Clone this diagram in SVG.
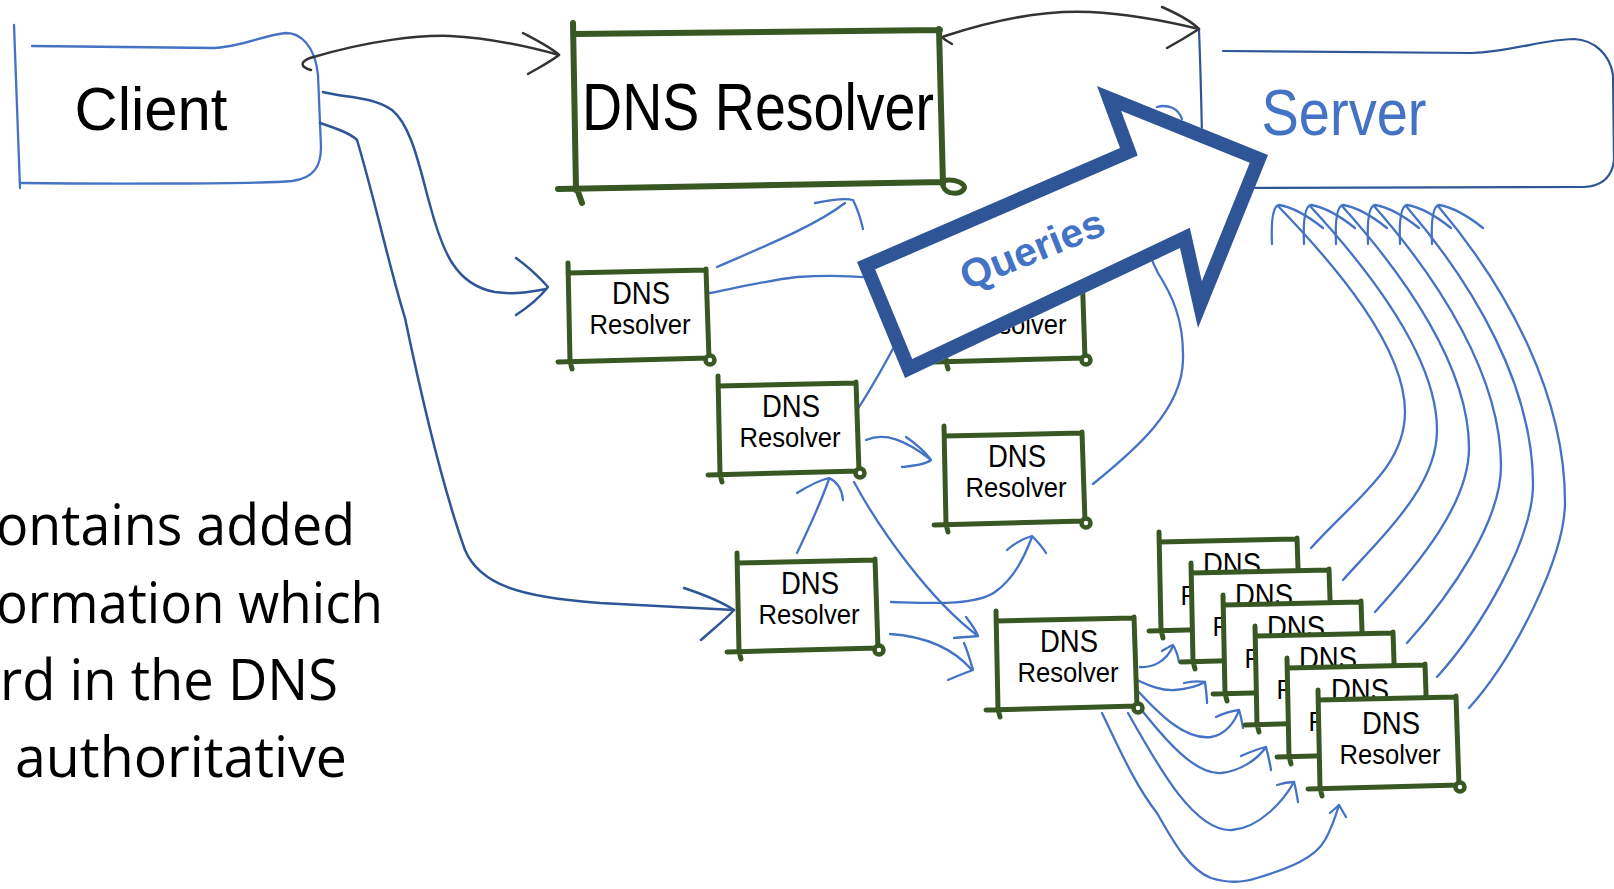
<svg xmlns="http://www.w3.org/2000/svg" xmlns:xlink="http://www.w3.org/1999/xlink" width="1614" height="889" viewBox="0 0 1614 889">
<style>
.hand{font-family:"Liberation Sans","DejaVu Sans",sans-serif;fill:#000}
.gs{fill:none;stroke:#385723;stroke-width:5;stroke-linecap:round;stroke-linejoin:round}
.bl{fill:none;stroke:#4472C4;stroke-width:2.3;stroke-linecap:round;stroke-linejoin:round}
.db{fill:none;stroke:#2F5597;stroke-width:2.5;stroke-linecap:round;stroke-linejoin:round}
.bk{fill:none;stroke:#333333;stroke-width:2.5;stroke-linecap:round;stroke-linejoin:round}
.dns{font-size:32px}
.res{font-size:28px}
.body{font-family:"Open Sans","Liberation Sans",sans-serif;font-size:56px;fill:#000}
</style>
<defs>
<g id="sbox">
<path d="M2,2 L138,0 L141,88 L2,91 Z" fill="#fff"/>
<path class="gs" d="M0,-7 L2,91 M0,3 L138,0 M138,-1 L141,89 M-10,92 L141,88 M2,91 L4,99"/>
<circle cx="142" cy="90" r="4.5" fill="#fff" stroke="#385723" stroke-width="4.5"/>
</g>
<clipPath id="qclip"><polygon points="857,262 1120,148 1097,86 1268,155 1198,328 1180,248 905,378"/></clipPath>
</defs>

<g id="paragraph">
<text class="body" x="-4" y="545" textLength="359" lengthAdjust="spacingAndGlyphs">ontains added</text>
<text class="body" x="-4" y="623" textLength="387" lengthAdjust="spacingAndGlyphs">ormation which</text>
<text class="body" x="0" y="700" textLength="338" lengthAdjust="spacingAndGlyphs">rd in the DNS</text>
<text class="body" x="15" y="777" textLength="332" lengthAdjust="spacingAndGlyphs">authoritative</text>
</g>

<g id="client">
<path class="bl" d="M14,25 L20,188"/>
<path class="bl" d="M32,46 L214,48 C240,47 265,35 286,33 C300,33 315,45 318,75 L321,147 C321,165 315,178 292,181 C260,184 100,184 21,183"/>
<text class="hand" x="151" y="130" font-size="62" text-anchor="middle" textLength="153" lengthAdjust="spacingAndGlyphs">Client</text>
</g>

<g id="dns-main">
<path d="M574,33 L940,30 L943,183 L576,188 Z" fill="#fff"/>
<path class="gs" style="stroke-width:6" d="M573,23 L576,190 M573,34 L940,30 M939,29 L943,184 M558,189 L943,182 M577,189 L582,203"/>
<path class="gs" style="stroke-width:5" d="M943,181 C955,178 967,184 964,189 C960,195 946,195 943,186"/>
<text class="hand" x="758" y="130" font-size="66" text-anchor="middle" textLength="352" lengthAdjust="spacingAndGlyphs">DNS Resolver</text>
</g>

<g id="server">
<path class="db" style="stroke-width:2.2" d="M1199,30 C1201,80 1202,130 1203,188 L1584,187"/>
<path class="db" style="stroke-width:2.2" d="M1223,51 L1472,53 C1510,52 1545,39 1574,39 C1595,40 1610,55 1613,75 L1614,160 C1612,178 1600,186 1584,187"/>
<text class="hand" x="1344" y="135" font-size="64" text-anchor="middle" textLength="165" lengthAdjust="spacingAndGlyphs" style="fill:#4472C4">Server</text>
</g>

<g id="connectors">
<path class="bk" d="M311,70 C300,67 300,62 310,58 C370,40 420,35 450,36 C490,38 530,47 559,55"/>
<path class="bk" d="M523,33 C540,42 552,48 559,55 C550,62 540,67 528,74"/>
<path class="bk" d="M952,44 C945,40 940,37 945,36 C1000,18 1050,10 1090,12 C1130,14 1170,22 1199,29"/>
<path class="bk" d="M1162,7 C1178,14 1190,20 1199,29 C1188,36 1178,42 1167,48"/>
<path class="db" d="M323,92 C345,98 372,96 392,110 C412,126 420,170 430,205 C442,250 455,285 495,292 C515,295 530,292 546,289"/>
<path class="db" d="M516,258 C530,268 540,278 548,287 C540,297 530,306 516,315"/>
<path class="db" d="M320,123 C335,128 350,133 357,140 C375,200 390,270 405,318 C420,390 440,480 465,550 C480,585 520,597 600,603 C650,606 700,608 734,610"/>
<path class="db" d="M684,588 C705,595 722,602 734,610 C725,620 712,630 701,640"/>
<path class="bl" d="M717,267 C765,246 815,226 845,203"/>
<path class="bl" d="M815,203 C830,200 845,198 853,200 C858,210 861,220 863,229"/>
<path class="bl" d="M710,293 C740,287 770,280 797,277 C830,275 870,276 900,282 C925,287 940,295 945,300"/>
<path class="bl" d="M856,412 C870,390 885,365 900,335"/>
<path class="bl" d="M866,440 C885,432 905,440 930,459"/>
<path class="bl" d="M906,437 C918,445 925,452 931,460 C925,465 912,466 902,467"/>
<path class="bl" d="M854,482 C880,530 930,600 978,636"/>
<path class="bl" d="M966,617 C972,625 976,630 978,636 C970,637 962,637 954,638"/>
<path class="bl" d="M797,553 C808,530 820,505 829,479"/>
<path class="bl" d="M797,493 C810,485 820,480 829,478 C838,482 842,490 843,500"/>
<path class="bl" d="M891,602 C930,603 975,606 995,592 C1015,578 1025,555 1032,537"/>
<path class="bl" d="M1007,550 C1015,543 1025,538 1032,536 C1038,542 1043,548 1046,553"/>
<path class="bl" d="M890,634 C920,636 950,645 972,670"/>
<path class="bl" d="M964,643 C968,652 970,660 973,670 C965,673 957,676 948,680"/>
<path class="bl" d="M1093,484 C1135,450 1182,410 1183,360 C1184,320 1172,295 1158,273 C1140,240 1135,180 1150,120"/>
<path class="bl" d="M1157,107 C1168,104 1178,108 1182,119"/>
<path class="bl" d="M1140,667 C1152,668 1166,662 1173,646"/>
<path class="bl" d="M1162,651 C1167,648 1170,646 1173,645 C1176,650 1178,656 1179,662"/>
<path class="bl" d="M1137,680 C1150,686 1162,691 1175,690 C1188,689 1198,686 1205,682"/>
<path class="bl" d="M1184,683 C1192,681 1199,681 1205,682 C1206,690 1207,697 1207,703"/>
<path class="bl" d="M1137,690 C1160,715 1185,740 1211,737 C1225,735 1235,722 1239,710"/>
<path class="bl" d="M1216,717 C1224,713 1232,711 1239,710 C1241,716 1242,722 1243,728"/>
<path class="bl" d="M1136,703 C1165,740 1195,775 1221,773 C1240,771 1257,760 1266,747"/>
<path class="bl" d="M1241,756 C1250,752 1258,749 1266,747 C1268,755 1270,763 1271,770"/>
<path class="bl" d="M1128,713 C1160,770 1195,832 1232,830 C1260,828 1284,800 1294,782"/>
<path class="bl" d="M1277,785 C1283,783 1289,782 1294,782 C1296,789 1297,796 1298,802"/>
<path class="bl" d="M1102,713 C1120,750 1135,785 1157,813 C1175,845 1190,870 1211,878 C1230,884 1245,882 1257,878 C1290,868 1315,858 1325,840 C1332,828 1336,815 1339,805"/>
<path class="bl" d="M1330,813 L1339,805 L1346,817"/>
<path class="bl" d="M1311,548 C1356,498 1405,467 1405,412 C1405,347 1336,266 1278,206"/>
<path class="bl" d="M1343,580 C1388,530 1437,485 1437,430 C1437,357 1370,271 1310,206"/>
<path class="bl" d="M1375,612 C1420,562 1469,503 1469,448 C1469,367 1405,276 1342,206"/>
<path class="bl" d="M1407,643 C1452,593 1501,521 1501,466 C1501,377 1440,281 1374,206"/>
<path class="bl" d="M1437,677 C1482,627 1533,539 1533,484 C1533,387 1475,286 1406,206"/>
<path class="bl" d="M1469,708 C1514,658 1565,557 1565,502 C1565,397 1510,291 1438,206"/>
<path class="bl" d="M1272,244 C1271,221 1273,206 1279,205 C1291,207 1308,216 1323,228"/>
<path class="bl" d="M1304,244 C1303,221 1305,206 1311,205 C1323,207 1340,216 1355,228"/>
<path class="bl" d="M1336,244 C1335,221 1337,206 1343,205 C1355,207 1372,216 1387,228"/>
<path class="bl" d="M1368,244 C1367,221 1369,206 1375,205 C1387,207 1404,216 1419,228"/>
<path class="bl" d="M1400,244 C1399,221 1401,206 1407,205 C1419,207 1436,216 1451,228"/>
<path class="bl" d="M1432,244 C1431,221 1433,206 1439,205 C1451,207 1468,216 1483,228"/>
</g>

<g id="resolver-a" transform="translate(568,270)"><use xlink:href="#sbox"/><text class="hand dns" x="73" y="34" text-anchor="middle" textLength="58" lengthAdjust="spacingAndGlyphs">DNS</text><text class="hand res" x="72" y="64" text-anchor="middle" textLength="101" lengthAdjust="spacingAndGlyphs">Resolver</text></g>
<g id="resolver-f" transform="translate(944,270)"><use xlink:href="#sbox"/><text class="hand dns" x="73" y="34" text-anchor="middle" textLength="58" lengthAdjust="spacingAndGlyphs">DNS</text><text class="hand res" x="72" y="64" text-anchor="middle" textLength="101" lengthAdjust="spacingAndGlyphs">Resolver</text></g>
<g id="resolver-b" transform="translate(718,383)"><use xlink:href="#sbox"/><text class="hand dns" x="73" y="34" text-anchor="middle" textLength="58" lengthAdjust="spacingAndGlyphs">DNS</text><text class="hand res" x="72" y="64" text-anchor="middle" textLength="101" lengthAdjust="spacingAndGlyphs">Resolver</text></g>
<g id="resolver-c" transform="translate(944,433)"><use xlink:href="#sbox"/><text class="hand dns" x="73" y="34" text-anchor="middle" textLength="58" lengthAdjust="spacingAndGlyphs">DNS</text><text class="hand res" x="72" y="64" text-anchor="middle" textLength="101" lengthAdjust="spacingAndGlyphs">Resolver</text></g>
<g id="resolver-d" transform="translate(737,560)"><use xlink:href="#sbox"/><text class="hand dns" x="73" y="34" text-anchor="middle" textLength="58" lengthAdjust="spacingAndGlyphs">DNS</text><text class="hand res" x="72" y="64" text-anchor="middle" textLength="101" lengthAdjust="spacingAndGlyphs">Resolver</text></g>
<g id="resolver-e" transform="translate(996,618)"><use xlink:href="#sbox"/><text class="hand dns" x="73" y="34" text-anchor="middle" textLength="58" lengthAdjust="spacingAndGlyphs">DNS</text><text class="hand res" x="72" y="64" text-anchor="middle" textLength="101" lengthAdjust="spacingAndGlyphs">Resolver</text></g>
<g id="resolver-g1" transform="translate(1159,539)"><use xlink:href="#sbox"/><text class="hand dns" x="73" y="36" text-anchor="middle" textLength="58" lengthAdjust="spacingAndGlyphs">DNS</text><text class="hand res" x="72" y="66" text-anchor="middle" textLength="101" lengthAdjust="spacingAndGlyphs">Resolver</text></g>
<g id="resolver-g2" transform="translate(1191,570)"><use xlink:href="#sbox"/><text class="hand dns" x="73" y="36" text-anchor="middle" textLength="58" lengthAdjust="spacingAndGlyphs">DNS</text><text class="hand res" x="72" y="66" text-anchor="middle" textLength="101" lengthAdjust="spacingAndGlyphs">Resolver</text></g>
<g id="resolver-g3" transform="translate(1223,602)"><use xlink:href="#sbox"/><text class="hand dns" x="73" y="36" text-anchor="middle" textLength="58" lengthAdjust="spacingAndGlyphs">DNS</text><text class="hand res" x="72" y="66" text-anchor="middle" textLength="101" lengthAdjust="spacingAndGlyphs">Resolver</text></g>
<g id="resolver-g4" transform="translate(1255,633)"><use xlink:href="#sbox"/><text class="hand dns" x="73" y="36" text-anchor="middle" textLength="58" lengthAdjust="spacingAndGlyphs">DNS</text><text class="hand res" x="72" y="66" text-anchor="middle" textLength="101" lengthAdjust="spacingAndGlyphs">Resolver</text></g>
<g id="resolver-g5" transform="translate(1287,665)"><use xlink:href="#sbox"/><text class="hand dns" x="73" y="36" text-anchor="middle" textLength="58" lengthAdjust="spacingAndGlyphs">DNS</text><text class="hand res" x="72" y="66" text-anchor="middle" textLength="101" lengthAdjust="spacingAndGlyphs">Resolver</text></g>
<g id="resolver-g6" transform="translate(1318,697)"><use xlink:href="#sbox"/><text class="hand dns" x="73" y="37" text-anchor="middle" textLength="58" lengthAdjust="spacingAndGlyphs">DNS</text><text class="hand res" x="72" y="67" text-anchor="middle" textLength="101" lengthAdjust="spacingAndGlyphs">Resolver</text></g>

<g id="queries">
<polygon points="857,262 1120,148 1097,86 1268,155 1198,328 1180,248 905,378" fill="#fff" stroke="#2F5597" stroke-width="28" stroke-linejoin="miter" stroke-miterlimit="10" clip-path="url(#qclip)"/>
<text transform="translate(1032,249) rotate(-22)" text-anchor="middle" dominant-baseline="central" font-family="Liberation Sans, sans-serif" font-weight="bold" font-size="40" fill="#4472C4" textLength="152" lengthAdjust="spacingAndGlyphs">Queries</text>
</g>
</svg>
